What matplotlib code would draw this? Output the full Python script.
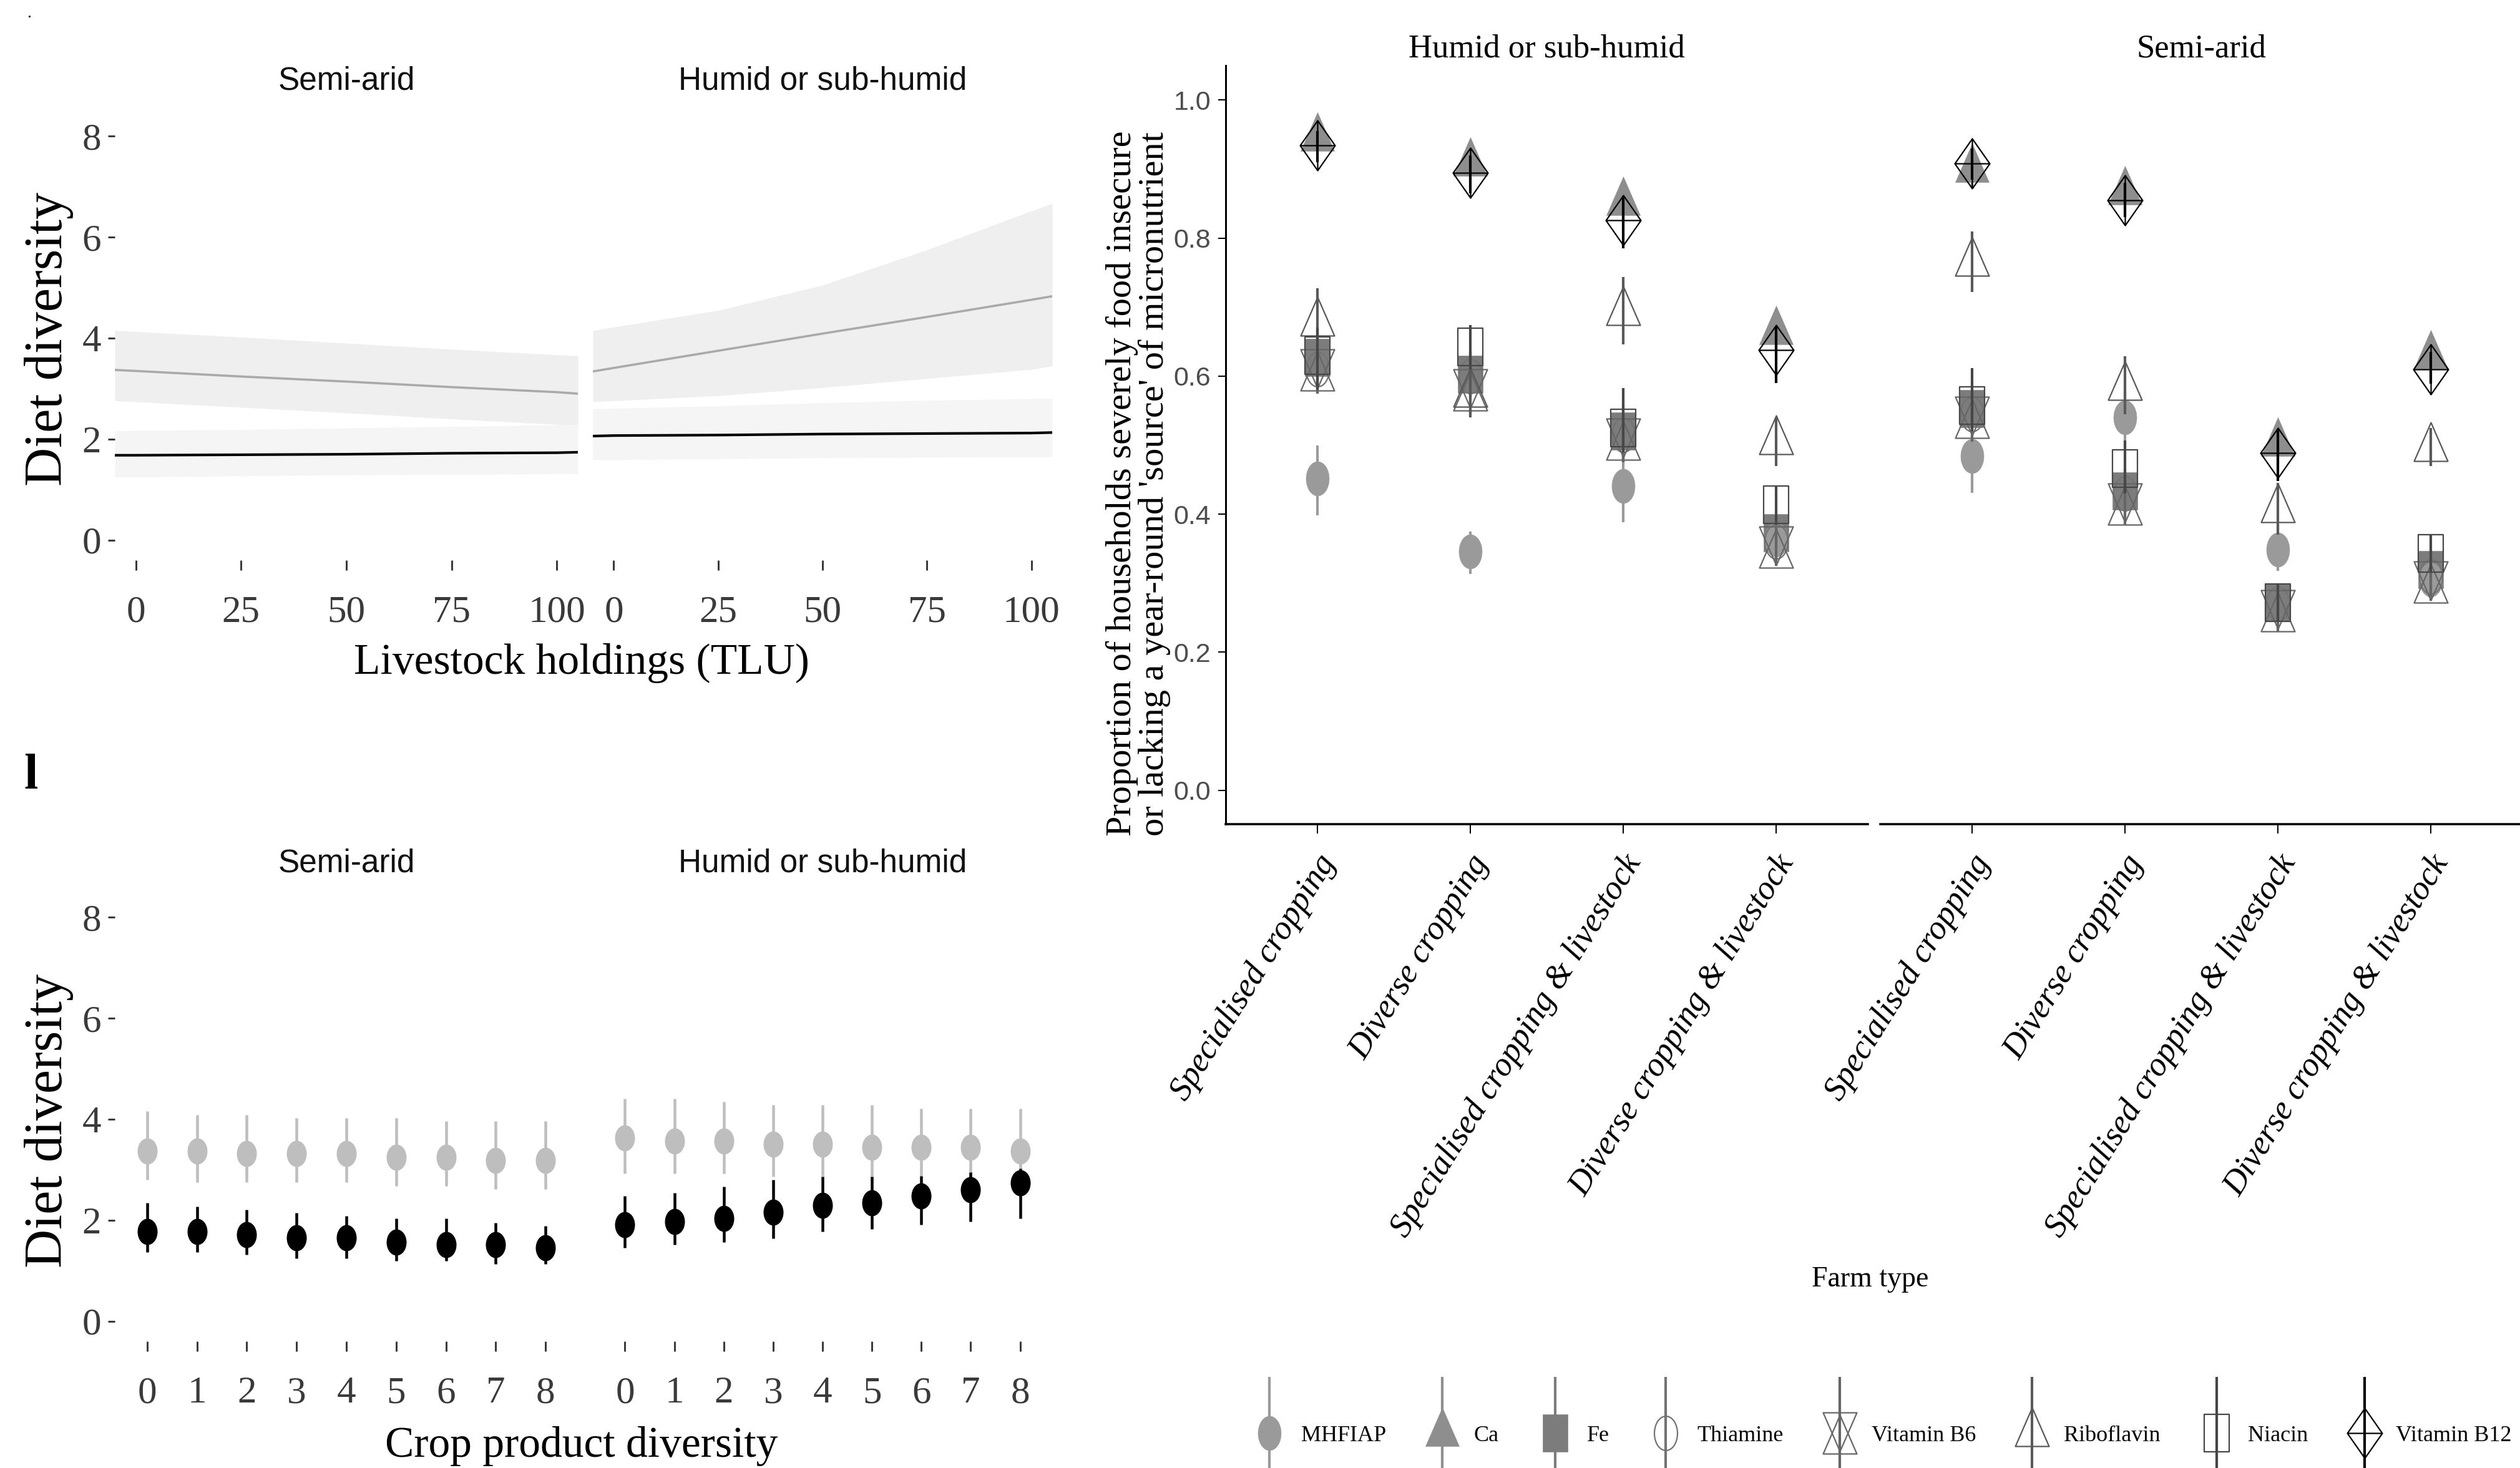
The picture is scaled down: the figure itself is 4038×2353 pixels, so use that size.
#!/usr/bin/env python3
import numpy as np
import matplotlib
matplotlib.use("Agg")
import matplotlib.pyplot as plt
from matplotlib.path import Path
from matplotlib.container import ErrorbarContainer
from matplotlib.legend_handler import HandlerErrorbar
from matplotlib import font_manager

W, H, DPI = 4038, 2353, 100

installed = {f.name for f in font_manager.fontManager.ttflist}
SERIF = ["Liberation Serif", "DejaVu Serif"]
NARROW = ["Liberation Sans Narrow"] if "Liberation Sans Narrow" in installed else ["Liberation Sans"]
plt.rcParams["font.family"] = SERIF

# ---------------- diet diversity vs livestock holdings (fits + ribbons)
tlu = [-5, 0, 25, 50, 75, 100, 105]
tlu_ticks = [0, 25, 50, 75, 100]
semi_grey_fit = [3.37, 3.35, 3.24, 3.14, 3.03, 2.93, 2.90]
semi_grey_lo = [2.76, 2.74, 2.63, 2.52, 2.40, 2.29, 2.27]
semi_grey_hi = [4.15, 4.13, 4.02, 3.90, 3.78, 3.67, 3.65]
semi_black_fit = [1.68, 1.68, 1.69, 1.70, 1.72, 1.73, 1.74]
semi_black_lo = [1.25, 1.25, 1.27, 1.29, 1.30, 1.31, 1.31]
semi_black_hi = [2.16, 2.17, 2.19, 2.22, 2.25, 2.28, 2.29]
humid_grey_fit = [3.34, 3.41, 3.75, 4.09, 4.42, 4.76, 4.83]
humid_grey_lo = [2.74, 2.76, 2.86, 3.02, 3.20, 3.38, 3.45]
humid_grey_hi = [4.15, 4.22, 4.55, 5.05, 5.75, 6.52, 6.67]
humid_black_fit = [2.06, 2.07, 2.08, 2.10, 2.11, 2.12, 2.13]
humid_black_lo = [1.59, 1.59, 1.61, 1.63, 1.64, 1.65, 1.65]
humid_black_hi = [2.60, 2.61, 2.66, 2.72, 2.77, 2.80, 2.81]

# ---------------- diet diversity vs crop product diversity (point ranges)
crop_div = [0, 1, 2, 3, 4, 5, 6, 7, 8]
semi_grey_est = [3.37, 3.37, 3.32, 3.32, 3.32, 3.25, 3.25, 3.19, 3.19]
semi_grey_low = [2.80, 2.75, 2.75, 2.75, 2.75, 2.68, 2.68, 2.62, 2.62]
semi_grey_high = [4.16, 4.09, 4.09, 4.03, 4.03, 4.03, 3.96, 3.96, 3.96]
semi_black_est = [1.77, 1.77, 1.71, 1.65, 1.65, 1.57, 1.51, 1.51, 1.45]
semi_black_low = [1.37, 1.37, 1.32, 1.25, 1.25, 1.19, 1.19, 1.13, 1.13]
semi_black_high = [2.35, 2.27, 2.21, 2.15, 2.08, 2.03, 2.03, 1.95, 1.89]
humid_grey_est = [3.63, 3.57, 3.57, 3.51, 3.51, 3.45, 3.45, 3.45, 3.37]
humid_grey_low = [2.93, 2.93, 2.93, 2.86, 2.86, 2.80, 2.80, 2.75, 2.75]
humid_grey_high = [4.41, 4.41, 4.35, 4.28, 4.28, 4.28, 4.21, 4.21, 4.21]
humid_black_est = [1.91, 1.97, 2.04, 2.16, 2.30, 2.35, 2.48, 2.60, 2.74]
humid_black_low = [1.45, 1.51, 1.57, 1.64, 1.77, 1.83, 1.91, 1.97, 2.04]
humid_black_high = [2.48, 2.54, 2.66, 2.80, 2.86, 2.86, 2.88, 2.95, 3.02]

# ---------------- proportion lacking a source, by farm type
zones = ["Humid or sub-humid", "Semi-arid"]
farm_types = ["Specialised cropping", "Diverse cropping",
              "Specialised cropping & livestock", "Diverse cropping & livestock"]
nutrients = ["MHFIAP", "Ca", "Fe", "Thiamine", "Vitamin B6", "Riboflavin", "Niacin", "Vitamin B12"]
# first four values: humid or sub-humid, last four: semi-arid
mhfiap_est = [0.452, 0.346, 0.441, 0.363, 0.484, 0.540, 0.349, 0.305]
mhfiap_lo = [0.398, 0.313, 0.388, 0.335, 0.431, 0.496, 0.318, 0.280]
mhfiap_hi = [0.500, 0.375, 0.490, 0.390, 0.512, 0.578, 0.385, 0.330]
ca_est = [0.945, 0.909, 0.852, 0.665, 0.900, 0.867, 0.503, 0.630]
ca_lo = [0.925, 0.885, 0.820, 0.635, 0.875, 0.840, 0.470, 0.600]
ca_hi = [0.965, 0.930, 0.880, 0.695, 0.925, 0.890, 0.535, 0.660]
fe_est = [0.627, 0.603, 0.520, 0.373, 0.553, 0.434, 0.272, 0.320]
fe_lo = [0.590, 0.570, 0.480, 0.345, 0.520, 0.400, 0.245, 0.295]
fe_hi = [0.665, 0.635, 0.560, 0.400, 0.590, 0.465, 0.300, 0.345]
thiamine_est = [0.610, 0.600, 0.515, 0.360, 0.545, 0.430, 0.270, 0.310]
thiamine_lo = [0.575, 0.565, 0.480, 0.330, 0.510, 0.395, 0.240, 0.285]
thiamine_hi = [0.645, 0.635, 0.550, 0.390, 0.580, 0.465, 0.300, 0.340]
b6_est = [0.609, 0.580, 0.509, 0.352, 0.540, 0.415, 0.260, 0.302]
b6_lo = [0.575, 0.545, 0.475, 0.325, 0.505, 0.385, 0.230, 0.275]
b6_hi = [0.645, 0.615, 0.545, 0.380, 0.575, 0.450, 0.290, 0.330]
ribo_est = [0.678, 0.575, 0.693, 0.506, 0.764, 0.585, 0.407, 0.496]
ribo_lo = [0.630, 0.540, 0.646, 0.470, 0.722, 0.545, 0.370, 0.470]
ribo_hi = [0.727, 0.610, 0.744, 0.540, 0.810, 0.629, 0.445, 0.525]
niacin_est = [0.630, 0.642, 0.525, 0.414, 0.557, 0.466, 0.272, 0.343]
niacin_lo = [0.580, 0.610, 0.490, 0.385, 0.520, 0.430, 0.245, 0.315]
niacin_hi = [0.670, 0.674, 0.583, 0.440, 0.612, 0.507, 0.300, 0.370]
b12_est = [0.934, 0.895, 0.826, 0.638, 0.908, 0.855, 0.489, 0.610]
b12_lo = [0.910, 0.865, 0.785, 0.590, 0.885, 0.830, 0.448, 0.589]
b12_hi = [0.955, 0.920, 0.860, 0.670, 0.930, 0.880, 0.520, 0.635]

estimates = [mhfiap_est, ca_est, fe_est, thiamine_est, b6_est, ribo_est, niacin_est, b12_est]
lowers = [mhfiap_lo, ca_lo, fe_lo, thiamine_lo, b6_lo, ribo_lo, niacin_lo, b12_lo]
uppers = [mhfiap_hi, ca_hi, fe_hi, thiamine_hi, b6_hi, ribo_hi, niacin_hi, b12_hi]

# ---------------- marker shapes (pixel units, horizontally squeezed like the source)
MV, LN, CL = Path.MOVETO, Path.LINETO, Path.CLOSEPOLY
unit = Path.unit_circle()
circle_px = Path(unit.vertices * [18.5, 27.5], unit.codes)
dot_px = Path(unit.vertices * [16, 21], unit.codes)
tri_px = Path([(0, 41), (-27, -21), (27, -21), (0, 41)], [MV, LN, LN, CL])
square_px = Path([(-20, -30), (20, -30), (20, 30), (-20, 30), (-20, -30)], [MV, LN, LN, LN, CL])
star_px = Path([(0, 29), (-27, -33), (27, -33), (0, 29), (0, -29), (-27, 33), (27, 33), (0, -29)],
               [MV, LN, LN, CL, MV, LN, LN, CL])
dplus_px = Path([(0, 40), (28, 0), (0, -40), (-28, 0), (0, 40), (0, 40), (0, -40), (-28, 0), (28, 0)],
                [MV, LN, LN, LN, CL, MV, LN, MV, LN])


def ms_of(p):
    return 2 * np.abs(p.vertices).max() * 72 / DPI


n_marker = [circle_px, tri_px, square_px, circle_px, star_px, tri_px, square_px, dplus_px]
n_filled = [True, True, True, False, False, False, False, False]
n_color = ["#9a9a9a", "#8e8e8e", "#7c7c7c", "#737373", "#666666", "#595959", "#474747", "#000000"]
n_z = [5, 3, 4, 6, 7, 8, 9, 10]

fig = plt.figure(figsize=(W / DPI, H / DPI), dpi=DPI)


def add_ax(x0, y0, x1, y1):
    return fig.add_axes([x0 / W, 1 - y1 / H, (x1 - x0) / W, (y1 - y0) / H])


def px(v):  # pixels -> points
    return v * 72 / DPI


ax_tl = [add_ax(184, 186, 926, 898), add_ax(950, 186, 1686, 898)]
ax_bl = [add_ax(184, 1438, 926, 2150), add_ax(950, 1438, 1686, 2150)]
ax_r = [add_ax(1964, 105, 2993, 1321), add_ax(3013, 105, 4042, 1321)]

TICKCOL = "#3a3a3a"
STRIP_LEFT = ["Semi-arid", "Humid or sub-humid"]

# ---- top-left: livestock
ribbons = [
    (semi_grey_fit, semi_grey_lo, semi_grey_hi, semi_black_fit, semi_black_lo, semi_black_hi),
    (humid_grey_fit, humid_grey_lo, humid_grey_hi, humid_black_fit, humid_black_lo, humid_black_hi),
]
for i, ax in enumerate(ax_tl):
    gf, gl, gh, bf, bl, bh = ribbons[i]
    ax.fill_between(tlu, gl, gh, color="#efefef", lw=0)
    ax.fill_between(tlu, bl, bh, color="#f5f5f5", lw=0)
    ax.plot(tlu, gf, color="#aaaaaa", lw=2.6, solid_capstyle="butt")
    ax.plot(tlu, bf, color="#000000", lw=3.0, solid_capstyle="butt")
    ax.set_xlim(-5, 105)
    ax.set_xticks(tlu_ticks)

# ---- bottom-left: crop product diversity
points = [
    (semi_grey_est, semi_grey_low, semi_grey_high, semi_black_est, semi_black_low, semi_black_high),
    (humid_grey_est, humid_grey_low, humid_grey_high, humid_black_est, humid_black_low, humid_black_high),
]
for i, ax in enumerate(ax_bl):
    for est, lo, hi, col in [(points[i][0], points[i][1], points[i][2], "#bebebe"),
                             (points[i][3], points[i][4], points[i][5], "#000000")]:
        ax.vlines(crop_div, lo, hi, color=col, lw=px(4.5))
        ax.plot(crop_div, est, ls="none", marker=dot_px, ms=ms_of(dot_px), color=col, mew=0)
    ax.set_xlim(-0.65, 8.65)
    ax.set_xticks(crop_div)

for row, strip_y in [(ax_tl, 56), (ax_bl, 54)]:
    for i, ax in enumerate(row):
        ax.set_ylim(-0.4, 8.4)
        ax.set_yticks([0, 2, 4, 6, 8])
        for s in ax.spines.values():
            s.set_visible(False)
        ax.tick_params(axis="x", length=px(16), width=px(3), color=TICKCOL, labelcolor=TICKCOL,
                       labelsize=44, pad=px(40))
        ax.tick_params(axis="y", length=px(11), width=px(3), color=TICKCOL, labelcolor=TICKCOL,
                       labelsize=44, pad=px(11))
        if i == 1:
            ax.tick_params(axis="y", left=False, labelleft=False)
        ax.text(0.5, 1 + strip_y / 712, STRIP_LEFT[i], transform=ax.transAxes, ha="center",
                va="center", family=NARROW, fontsize=37, color="#111111")

fig.text(78 / W, 1 - 543 / H, "Diet diversity", rotation=90, ha="center", va="center", fontsize=62)
fig.text(78 / W, 1 - 1796 / H, "Diet diversity", rotation=90, ha="center", va="center", fontsize=62)
fig.text(932 / W, 1 - 1063 / H, "Livestock holdings (TLU)", ha="center", va="center", fontsize=50)
fig.text(932 / W, 1 - 2318 / H, "Crop product diversity", ha="center", va="center", fontsize=50)
fig.text(50 / W, 1 - 1244 / H, "l", ha="center", va="center", fontsize=58, fontweight="bold")
fig.text(47 / W, 1 - 22 / H, ".", ha="center", va="center", fontsize=20)

# ---- right: farm types
cats = [1, 2, 3, 4]
handles = []
for z, ax in enumerate(ax_r):
    sl = slice(4 * z, 4 * z + 4)
    for k, name in enumerate(nutrients):
        est = np.array(estimates[k][sl])
        err = [est - np.array(lowers[k][sl]), np.array(uppers[k][sl]) - est]
        c = n_color[k]
        cont = ax.errorbar(cats, est, yerr=err, ls="none", marker=n_marker[k], ms=ms_of(n_marker[k]),
                           mfc=c if n_filled[k] else "none", mec=c, mew=0.4 if n_filled[k] else 1.6,
                           ecolor=c, elinewidth=3.0, capsize=0, zorder=n_z[k], label=name)
        if z == 0:
            handles.append(cont)
    ax.set_xlim(0.4, 4.6)
    ax.set_ylim(-0.049, 1.05)
    ax.set_xticks(cats)
    ax.set_xticklabels([])
    ax.set_yticks([0, 0.2, 0.4, 0.6, 0.8, 1.0])
    ax.set_yticklabels(["0.0", "0.2", "0.4", "0.6", "0.8", "1.0"])
    ax.spines["top"].set_visible(False)
    ax.spines["right"].set_visible(False)
    ax.spines["bottom"].set_linewidth(px(3.5))
    ax.spines["left"].set_linewidth(px(3))
    ax.tick_params(axis="x", length=px(15), width=px(2), color="black")
    ax.tick_params(axis="y", length=px(12), width=px(2), color="black", labelcolor="#4d4d4d",
                   labelsize=31, pad=px(12))
    for lab in ax.get_yticklabels():
        lab.set_family(NARROW)
    if z == 1:
        ax.spines["left"].set_visible(False)
        ax.tick_params(axis="y", left=False, labelleft=False)
    ax.text(0.5, 1 + 26 / 1216, zones[z], transform=ax.transAxes, ha="center", va="center",
            fontsize=38)
    for j, lab in enumerate(farm_types):
        ax.text(cats[j] + 0.075, -54 / 1216, lab, transform=ax.get_xaxis_transform(),
                rotation=58, rotation_mode="anchor", ha="right", va="center",
                fontstyle="italic", fontsize=39)

fig.text(1876 / W, 1 - 1340 / H,
         "Proportion of households severely food insecure\n"
         "or lacking a year-round 'source' of micronutrient",
         rotation=90, ha="right", va="bottom", multialignment="left", linespacing=1.0,
         fontsize=42)
fig.text(2997 / W, 1 - 2051 / H, "Farm type", ha="center", va="center", fontsize=33)

fig.legend(handles, nutrients, loc="center left", bbox_to_anchor=(2016 / W, 1 - 2301 / H),
           ncol=8, frameon=False, fontsize=26, handlelength=1.0, handletextpad=0.9,
           columnspacing=2.0, borderpad=0, borderaxespad=0,
           handler_map={ErrorbarContainer: HandlerErrorbar(yerr_size=2.5)})

fig.savefig("out.png", dpi=DPI)
